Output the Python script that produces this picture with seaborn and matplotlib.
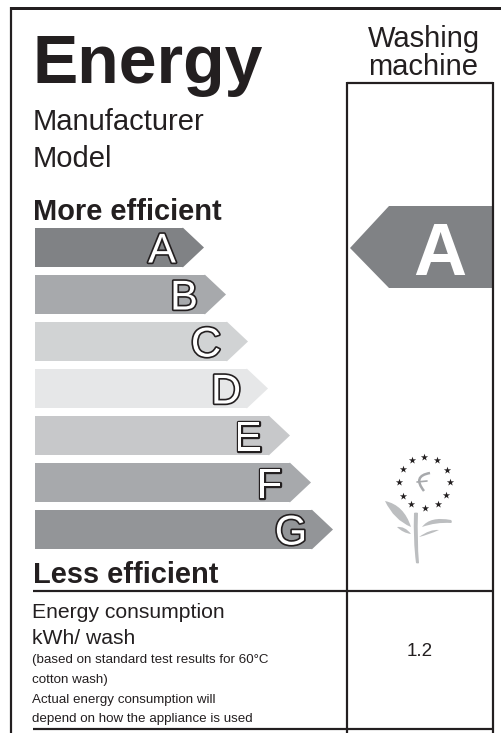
import matplotlib
matplotlib.use("Agg")
import matplotlib.pyplot as plt
import matplotlib.patheffects as pe
from matplotlib.patches import Polygon, PathPatch
from matplotlib.path import Path
import pandas as pd
import seaborn as sns

W, H = 502, 733
CLASSES = ["A", "B", "C", "D", "E", "F", "G"]
BAR_LENGTHS = [148, 170, 192, 212, 234, 255, 277]
BAR_COLORS = ["#808285", "#a7a9ac", "#d1d3d4", "#e6e7e8", "#c7c8ca", "#a7a9ac", "#939598"]
RATING = "A"
CONSUMPTION = "1.2"
STARS_X = [424, 412, 437, 403, 447, 399, 450, 403, 446, 411, 438, 425]
STARS_Y = [457, 460, 460, 469, 470, 482, 482, 496, 495, 504, 504, 508]

sns.set_theme(style="white")
plt.rcParams["font.family"] = ["Liberation Sans", "DejaVu Sans"]
INK = "#231f20"

fig = plt.figure(figsize=(W / 100, H / 100), dpi=100, facecolor="white")
ax = fig.add_axes([0, 0, 1, 1])
ax.set_xlim(0, W)
ax.set_ylim(H, 0)
ax.axis("off")

# frame and table rules
def rule(x0, y0, x1, y1, lw=2.0):
    ax.plot([x0, x1], [y0, y1], color=INK, lw=lw * 0.72, solid_capstyle="butt", zorder=3)

rule(11, 7.5, 502, 7.5, 3)
rule(11.5, 7, 11.5, 733, 2.2)
rule(347, 83, 493, 83, 2.2)
rule(347, 82, 347, 733, 2.2)
rule(492.7, 82, 492.7, 733, 2.2)
rule(33, 591, 493, 591, 2.2)
rule(33, 729, 493, 729, 2.2)

# headings
ax.text(33, 83, "Energy", fontsize=49, fontweight="bold", color=INK, ha="left", va="baseline")
ax.text(423.5, 47, "Washing", fontsize=21, color=INK, ha="center", va="baseline")
ax.text(423, 75, "machine", fontsize=21, color=INK, ha="center", va="baseline")
ax.text(33, 130, "Manufacturer", fontsize=21, color=INK, va="baseline")
ax.text(33, 167, "Model", fontsize=21, color=INK, va="baseline")
ax.text(33, 220, "More efficient", fontsize=20.9, fontweight="bold", color=INK, va="baseline")
ax.text(33, 583, "Less efficient", fontsize=20.9, fontweight="bold", color=INK, va="baseline")

# table text
ax.text(32, 618, "Energy consumption", fontsize=15.2, color=INK, va="baseline")
ax.text(32, 644, "kWh/ wash", fontsize=15.2, color=INK, va="baseline")
ax.text(32, 663, "(based on standard test results for 60\u00b0C", fontsize=9.6, color=INK, va="baseline")
ax.text(32, 683, "cotton wash)", fontsize=9.6, color=INK, va="baseline")
ax.text(32, 703, "Actual energy consumption will", fontsize=9.6, color=INK, va="baseline")
ax.text(32, 722, "depend on how the appliance is used", fontsize=9.6, color=INK, va="baseline")
ax.text(419.5, 656, CONSUMPTION, fontsize=13.5, color=INK, ha="center", va="baseline")

# rating arrow
ax.add_patch(Polygon([(350, 248), (389, 206), (492, 206), (492, 288), (389, 288)],
                     closed=True, fc="#808285", ec="none", zorder=2))
ax.text(440, 275, RATING, fontsize=53, fontweight="bold", color="white", ha="center", va="baseline", zorder=4)

# eco flower
ax.scatter(STARS_X, STARS_Y, marker="*", s=30, color=INK, linewidths=0, zorder=3)
def blob(verts, color="#bcbec0"):
    codes = [Path.MOVETO] + [Path.CURVE3] * (len(verts) - 1)
    ax.add_patch(PathPatch(Path(verts, codes), fc=color, ec="none", zorder=2))
blob([(385, 501), (404, 505), (411, 527), (394, 520), (385, 501)])
blob([(414, 513), (413, 540), (416, 563), (418, 564), (419, 563), (417, 540), (418, 513), (416, 512), (414, 513)])
blob([(422, 527), (430, 516), (451, 520), (453, 522), (451, 523), (436, 522), (422, 527)])
blob([(419, 537), (430, 529), (439, 530), (428, 535), (419, 537)])
blob([(397, 527), (405, 526), (411, 534), (403, 533), (397, 527)])
# euro mark in flower
ax.add_patch(PathPatch(Path([(430, 473), (412, 476), (424, 491)], [Path.MOVETO, Path.CURVE3, Path.CURVE3]),
                       fc="none", ec="#a7a9ac", lw=1.8, zorder=2))
ax.plot([417, 427], [482, 481], color="#a7a9ac", lw=1.2)

# efficiency bars: one axes whose x unit is a pixel and whose rows are 47 px apart
top, bottom = 224, 553
bx0, bx1 = 35, 345
bar_ax = fig.add_axes([bx0 / W, 1 - bottom / H, (bx1 - bx0) / W, (bottom - top) / H])
bar_ax.patch.set_alpha(0)
frame = pd.DataFrame({"cls": CLASSES, "length": BAR_LENGTHS})
sns.barplot(data=frame, y="cls", x="length", hue="cls", palette=BAR_COLORS, order=CLASSES,
            hue_order=CLASSES, legend=False, width=39.5 / 47, saturation=1, ax=bar_ax, linewidth=0)
bar_ax.set_xlim(0, bx1 - bx0)
bar_ax.set_ylim(6.5, -0.5)
bar_ax.axis("off")
half = 19.75 / 47
for i, (c, length, col) in enumerate(zip(CLASSES, BAR_LENGTHS, BAR_COLORS)):
    bar_ax.add_patch(Polygon([(length - 0.5, i - half), (length, i - half), (length + 21, i),
                              (length, i + half), (length - 0.5, i + half)],
                             closed=True, fc=col, ec="none"))
    bar_ax.text(length - 21, i + 0.32, c, fontsize=30, color="white", ha="center", va="baseline",
                path_effects=[pe.withStroke(linewidth=2.4, foreground=INK)], zorder=5)

fig.savefig("out.png", dpi=100, facecolor="white")
